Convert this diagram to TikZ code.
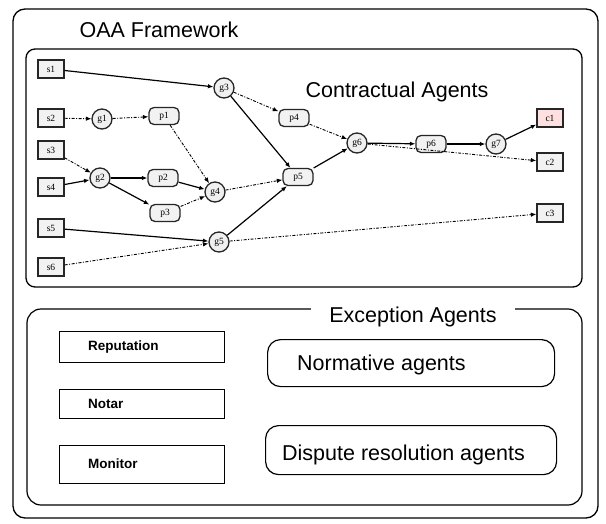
\documentclass[tikz,border=0pt]{standalone}
\usepackage{fontspec}
\setmainfont{Liberation Sans}
\newfontfamily\tinyserif{Liberation Serif}
\usetikzlibrary{arrows.meta}
\tikzset{
  frame/.style={draw=black, line width=1.3pt},
  sbox/.style={draw=black!85, line width=1.3pt, fill=gray!10, minimum width=26pt, minimum height=18pt, inner sep=0pt, font=\tinyserif\fontsize{9.5}{10}\selectfont},
  gnode/.style={circle, draw=black!85, line width=1.3pt, fill=gray!12, minimum size=20pt, inner sep=0pt, font=\tinyserif\fontsize{9.5}{10}\selectfont},
  pnode/.style={rounded corners=5pt, draw=black!85, line width=1.3pt, fill=gray!10, minimum width=30pt, minimum height=17pt, inner sep=0pt, font=\tinyserif\fontsize{9.5}{10}\selectfont},
  solidarrow/.style={line width=1.2pt, -{Latex[length=5.5pt,width=4.5pt]}},
  dasharrow/.style={line width=0.9pt, dash pattern=on 3pt off 1.5pt on 1pt off 1.5pt, -{Latex[length=5.5pt,width=4.5pt]}},
  title/.style={font=\fontsize{21.5}{24}\selectfont, inner sep=0pt},
  exbox/.style={draw=black, line width=1.2pt, minimum width=165pt, inner sep=0pt},
  roundbox/.style={draw=black, line width=1.2pt, rounded corners=13pt, inner sep=0pt},
  smalltext/.style={font=\fontsize{13.5}{15}\selectfont\bfseries, inner sep=0pt, anchor=west}
}
\begin{document}
\begin{tikzpicture}[x=1pt,y=-1pt]
\useasboundingbox (0,0) rectangle (606,523);
% frames
\draw[frame, rounded corners=12pt] (13,9) rectangle (598,518);
\draw[frame, rounded corners=9pt] (26,49) rectangle (582,287);
\draw[frame, line width=1.2pt, rounded corners=14pt] (27,309) rectangle (582,505);
\node[title, anchor=base] (oaa) at (159,37) {OAA Framework};
\node[title, anchor=base] (ca) at (397,97) {Contractual Agents};
\node[title, anchor=base, fill=white, inner xsep=18pt, inner ysep=4pt] (ea) at (413,322) {Exception Agents};

% sources
\node[sbox] (s1) at (51,69) {s1};
\node[sbox] (s2) at (51,118) {s2};
\node[sbox] (s3) at (51,150) {s3};
\node[sbox] (s4) at (51,187) {s4};
\node[sbox] (s5) at (51,228) {s5};
\node[sbox] (s6) at (51,267) {s6};
% gateways and processes
\node[gnode] (g1) at (102,119) {g1};
\node[pnode] (p1) at (164,116) {p1};
\node[gnode] (g2) at (100,178) {g2};
\node[pnode] (p2) at (163,178) {p2};
\node[pnode] (p3) at (165,213) {p3};
\node[gnode] (g4) at (215,192) {g4};
\node[gnode] (g3) at (224,88) {g3};
\node[pnode] (p4) at (294,118) {p4};
\node[pnode] (p5) at (298,177) {p5};
\node[gnode] (g5) at (219,242) {g5};
\node[gnode] (g6) at (357,143) {g6};
\node[pnode] (p6) at (431,144) {p6};
\node[gnode] (g7) at (496,144) {g7};
% consumers
\node[sbox, fill=red!12] (c1) at (550,118) {c1};
\node[sbox] (c2) at (550,162) {c2};
\node[sbox] (c3) at (550,213) {c3};

% connectors
\draw[solidarrow] (s1) -- (g3);
\draw[dasharrow] (s2) -- (g1);
\draw[dasharrow] (g1) -- (p1);
\draw[dasharrow] (p1) -- (g4);
\draw[dasharrow] (s3) -- (g2);
\draw[solidarrow] (s4) -- (g2);
\draw[solidarrow] (g2) -- (p2);
\draw[solidarrow] (g2) -- (p3);
\draw[solidarrow] (p2) -- (g4);
\draw[dasharrow] (p3) -- (g4);
\draw[dasharrow] (g4) -- (p5);
\draw[dasharrow] (g3) -- (p4);
\draw[solidarrow] (g3) -- (p5);
\draw[dasharrow] (p4) -- (g6);
\draw[solidarrow] (p5) -- (g6);
\draw[solidarrow] (g5) -- (p5);
\draw[solidarrow] (s5) -- (g5);
\draw[dasharrow] (s6) -- (g5);
\draw[dasharrow] (g5) -- (c3);
\draw[solidarrow] (g6) -- (p6);
\draw[dasharrow] (g6) -- (c2);
\draw[solidarrow] (p6) -- (g7);
\draw[solidarrow] (g7) -- (c1);

% exception agents
\node[exbox, minimum height=31pt, anchor=north west] (rep) at (59,331) {};
\node[smalltext] (reptext) at (88,347) {Reputation};
\node[exbox, minimum height=29pt, anchor=north west] (notar) at (59,389) {};
\node[smalltext] (notartext) at (88,404) {Notar};
\node[exbox, minimum height=38pt, anchor=north west] (mon) at (59,445) {};
\node[smalltext] (montext) at (88,464) {Monitor};

\node[roundbox, minimum width=287pt, minimum height=47pt, anchor=north west] (norm) at (267,339) {};
\node[title, anchor=base west] (normtext) at (297,370) {Normative agents};
\node[roundbox, minimum width=291pt, minimum height=49pt, anchor=north west] (disp) at (265,425) {};
\node[title, anchor=base west] (disptext) at (282,460) {Dispute resolution agents};
\end{tikzpicture}
\end{document}
